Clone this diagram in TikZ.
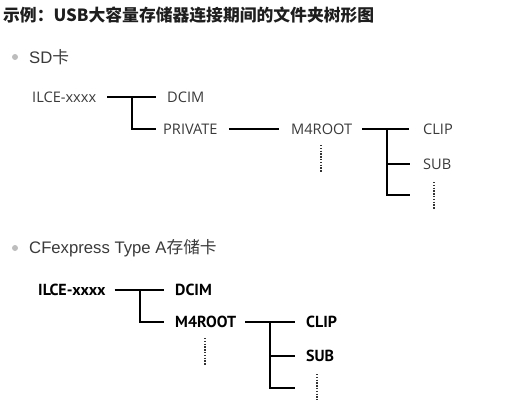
\documentclass[tikz,border=0pt]{standalone}
\usepackage{fontspec}
\newfontfamily\cjk{Noto Sans CJK SC}
\newfontfamily\lib{Liberation Sans}
\newfontfamily\treeA{Open Sans}
\newfontfamily\treeB{PT Sans}
\definecolor{txtgray}{HTML}{3A3A3A}
\definecolor{bulletgray}{HTML}{BDBDBD}
\definecolor{titlecol}{HTML}{1E1E1E}
\begin{document}
\begin{tikzpicture}[x=1bp,y=-1bp,
  lblA/.style={anchor=west,inner sep=0pt,text=txtgray,font=\treeA\fontsize{14.6bp}{15bp}\selectfont},
  lblB/.style={anchor=west,inner sep=0pt,text=black,font=\treeB\bfseries\fontsize{16bp}{17bp}\selectfont},
  branch/.style={line width=1.5bp,black},
  trunk/.style={line width=2bp,black},
  dots/.style={line width=1.1bp,black!80,dash pattern=on 1.4bp off 1.4bp},
  bul/.style={anchor=west,inner sep=0pt,text=txtgray,font=\fontsize{16.7bp}{18bp}\selectfont}]
\useasboundingbox (0,0) rectangle (513,400);
% title
\node[anchor=west,inner sep=0pt,text=titlecol,font=\cjk\bfseries\fontsize{16.8bp}{18bp}\selectfont] (title) at (3,15) {示例：USB大容量存储器连接期间的文件夹树形图};
% bullets
\fill[bulletgray] (15,57) circle (3bp);
\node[bul] (sd) at (29,57) {{\lib SD}{\cjk 卡}};
\fill[bulletgray] (15,248) circle (3bp);
\node[bul] (cfe) at (29,248) {{\lib CFexpress Type A}{\cjk 存储卡}};

% ---------------- tree 1
\node[lblA] (a1) at (32,97) {ILCE-xxxx};
\node[lblA] (d1) at (167,97) {DCIM};
\node[lblA] (p1) at (163,129) {PRIVATE};
\node[lblA] (m1) at (291,129) {M4ROOT};
\node[lblA] (c1) at (423,129) {CLIP};
\node[lblA] (s1) at (423,164) {SUB};
\coordinate (j1) at (132,97);
\coordinate (k1) at (132,129);
\coordinate (j2) at (387,129);
\coordinate (k2) at (387,164);
\coordinate (e2) at (387,195);
\coordinate (f2) at (410,195);
\coordinate (v1a) at (321,145);
\coordinate (v1b) at (321,173);
\coordinate (v2a) at (434,182);
\coordinate (v2b) at (434,210);
\draw[trunk] ([xshift=11bp]a1.east) -- ([xshift=-11bp]d1.west);
\draw[branch] (j1) -- (k1) -- ([xshift=-7bp]p1.west);
\draw[branch] ([xshift=11bp]p1.east) -- ([xshift=-12bp]m1.west);
\draw[branch] ([xshift=10bp]m1.east) -- ([xshift=-14bp]c1.west);
\draw[branch] (j2) -- (e2) -- (f2);
\draw[branch] (k2) -- ([xshift=-13bp]s1.west);
\draw[dots] (v1a) -- (v1b);
\draw[dots] (v2a) -- (v2b);

% ---------------- tree 2
\node[lblB] (a2) at (38,290) {ILCE-xxxx};
\node[lblB] (d2) at (175,290) {DCIM};
\node[lblB] (m2) at (175,322) {M4ROOT};
\node[lblB] (c2) at (306,322) {CLIP};
\node[lblB] (s2) at (306,356) {SUB};
\coordinate (j3) at (140,290);
\coordinate (k3) at (140,322);
\coordinate (j4) at (270,322);
\coordinate (k4) at (270,356);
\coordinate (e4) at (270,388);
\coordinate (f4) at (295,388);
\coordinate (v3a) at (205,338);
\coordinate (v3b) at (205,366);
\coordinate (v4a) at (317,374);
\coordinate (v4b) at (317,400);
\draw[branch] ([xshift=9bp]a2.east) -- ([xshift=-11bp]d2.west);
\draw[branch] (j3) -- (k3) -- ([xshift=-11bp]m2.west);
\draw[branch] ([xshift=9bp]m2.east) -- ([xshift=-11bp]c2.west);
\draw[branch] (j4) -- (e4) -- (f4);
\draw[branch] (k4) -- ([xshift=-11bp]s2.west);
\draw[dots] (v3a) -- (v3b);
\draw[dots] (v4a) -- (v4b);
\end{tikzpicture}
\end{document}
